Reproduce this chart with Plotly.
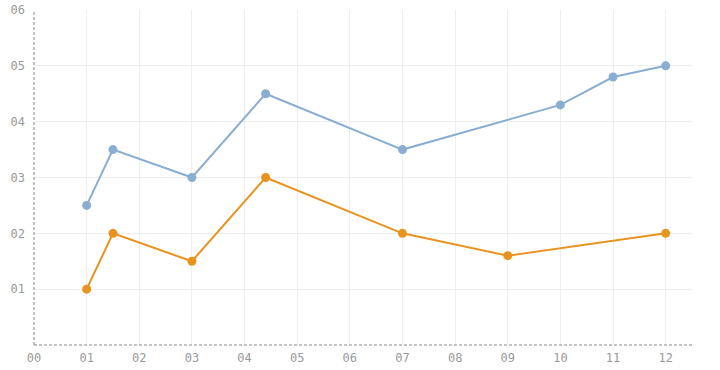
import plotly.graph_objects as go

blue_x = [1, 1.5, 3, 4.4, 7, 10, 11, 12]
blue_y = [2.5, 3.5, 3.0, 4.5, 3.5, 4.3, 4.8, 5.0]
orange_x = [1, 1.5, 3, 4.4, 7, 9, 12]
orange_y = [1.0, 2.0, 1.5, 3.0, 2.0, 1.6, 2.0]
x_ticks = list(range(0, 13))
y_ticks = list(range(1, 7))

fig = go.Figure()
fig.add_trace(go.Scatter(x=blue_x, y=blue_y, mode="lines+markers",
                         line=dict(color="#8aaed1", width=2),
                         marker=dict(color="#8aaed1", size=9)))
fig.add_trace(go.Scatter(x=orange_x, y=orange_y, mode="lines+markers",
                         line=dict(color="#e8931f", width=2),
                         marker=dict(color="#e8931f", size=9)))

fig.update_layout(
    width=720, height=370,
    margin=dict(l=34, r=28, t=10, b=25, autoexpand=False),
    paper_bgcolor="white", plot_bgcolor="white",
    showlegend=False,
    font=dict(family="DejaVu Sans Mono", size=12, color="#9a9a9a"),
    xaxis=dict(range=[0, 12.5], tickvals=x_ticks, tickformat="02d",
               showgrid=True, gridcolor="#eeeeee", zeroline=False,
               showline=False, ticks="", ticklabelstandoff=4, automargin=False),
    yaxis=dict(range=[0, 6], tickvals=y_ticks, tickformat="02d",
               showgrid=True, gridcolor="#eeeeee", zeroline=False,
               showline=False, ticks="", ticklabelstandoff=8, automargin=False),
    shapes=[
        dict(type="line", xref="paper", yref="paper", x0=0, x1=0, y0=0, y1=1,
             line=dict(color="#888888", width=1, dash="3px,2px")),
        dict(type="line", xref="paper", yref="paper", x0=0, x1=1, y0=0, y1=0,
             line=dict(color="#888888", width=1, dash="3px,2px")),
    ],
)
fig.write_html("out.html", config={"displayModeBar": False},
               post_script="document.body.style.margin='0';")
